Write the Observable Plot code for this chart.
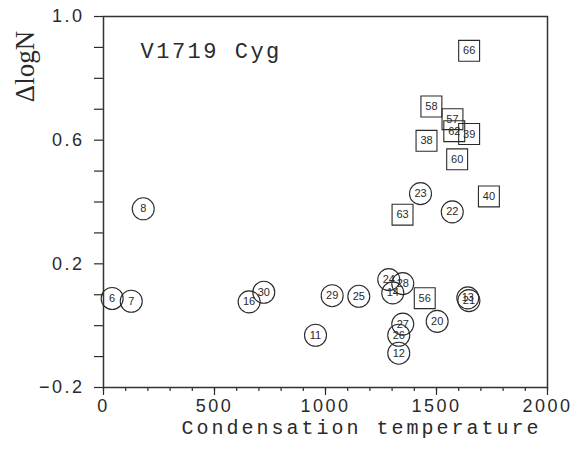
<!DOCTYPE html>
<html><head><meta charset="utf-8">
<script src="https://cdn.jsdelivr.net/npm/d3@7"></script>
<script src="https://cdn.jsdelivr.net/npm/@observablehq/plot@0.6"></script>
<style>
body{margin:0;background:#fff}
g[aria-label="x-axis tick label"] text,g[aria-label="y-axis tick label"] text{letter-spacing:2.5px}
</style></head><body><div id="chart"></div>
<script>
const title = "V1719 Cyg";
const xLabel = "Condensation temperature";
const yLabel = "ΔlogN";

// circles
const circleIds = [6, 7, 8, 16, 30, 29, 25, 11, 24, 28, 14, 27, 26, 12, 20, 23, 22, 13, 21];
const circleX = [39, 125, 179, 656, 722, 1030, 1150, 955, 1285, 1348, 1303, 1348, 1330, 1330, 1503, 1428, 1571, 1641, 1646];
const circleY = [0.088, 0.079, 0.378, 0.077, 0.108, 0.097, 0.095, -0.031, 0.149, 0.136, 0.106, 0.005, -0.031, -0.089, 0.014, 0.427, 0.368, 0.090, 0.081];

// squares
const squareIds = [66, 58, 57, 62, 39, 38, 60, 63, 40, 56];
const squareX = [1647, 1477, 1572, 1580, 1647, 1455, 1593, 1347, 1736, 1447];
const squareY = [0.889, 0.709, 0.668, 0.629, 0.620, 0.598, 0.538, 0.359, 0.418, 0.089];

const xMajorTicks = [0, 500, 1000, 1500, 2000];
const xMinorTicks = [0, 100, 200, 300, 400, 500, 600, 700, 800, 900, 1000, 1100, 1200, 1300, 1400, 1500, 1600, 1700, 1800, 1900, 2000];
const yTicks = [-0.2, -0.1, 0, 0.1, 0.2, 0.3, 0.4, 0.5, 0.6, 0.7, 0.8, 0.9, 1.0];
const yLabelTicks = [-0.2, 0.2, 0.6, 1.0];

const circles = circleIds.map((id, i) => ({id, x: circleX[i], y: circleY[i]}));
const squares = squareIds.map((id, i) => ({id, x: squareX[i], y: squareY[i]}));
const ink = "#2a2a2a";
const fmt = d3.format(".1f");

const chart = Plot.plot({
  width: 575, height: 454,
  marginLeft: 103, marginRight: 28, marginTop: 16, marginBottom: 67,
  style: {fontFamily: "'Liberation Sans', Arial, sans-serif", fontSize: "11px", background: "#fff", color: ink},
  x: {domain: [0, 2000]},
  y: {domain: [-0.2, 1.0]},
  marks: [
    Plot.axisX(xMinorTicks, {tickSize: 4, tickFormat: () => "", label: null, stroke: ink, strokeWidth: 1.2}),
    Plot.axisX(xMajorTicks, {tickSize: 8, tickPadding: 4, fontSize: 18, stroke: ink, strokeWidth: 1.2,
      tickFormat: d => String(d), label: null}),
    Plot.axisY(yTicks, {tickSize: 9, tickPadding: 10, fontSize: 18, stroke: ink, strokeWidth: 1.2,
      tickFormat: d => yLabelTicks.includes(d) ? fmt(d) : "", label: null}),
    Plot.frame({stroke: "#333", strokeWidth: 1.5}),
    Plot.dot(circles, {x: "x", y: "y", r: 11, stroke: ink, fill: "none", strokeWidth: 1.1}),
    Plot.dot(squares, {x: "x", y: "y", r: 11.8, symbol: "square", stroke: ink, fill: "none", strokeWidth: 1.1}),
    Plot.text(circles, {x: "x", y: "y", text: "id", fontSize: 11, fill: ink}),
    Plot.text(squares, {x: "x", y: "y", text: "id", fontSize: 11, fill: ink}),
    Plot.text([title], {frameAnchor: "top-left", dx: 37, dy: 26, textAnchor: "start",
      fontFamily: "'Liberation Mono', monospace", fontSize: 22, fill: ink}),
    Plot.text([xLabel], {frameAnchor: "bottom", dx: 36, dy: 46, textAnchor: "middle",
      fontFamily: "'Liberation Mono', monospace", fontSize: 20, fill: ink}),
    Plot.text([yLabel], {frameAnchor: "top-left", dx: -89, dy: 50, rotate: -90, textAnchor: "middle",
      fontFamily: "'Liberation Serif', serif", fontSize: 27, fill: ink})
  ]
});
chart.querySelectorAll("text").forEach(t => {
  if (t.textContent === title) t.style.letterSpacing = "2.5px";
  if (t.textContent === xLabel) t.style.letterSpacing = "3px";
});
document.getElementById("chart").appendChild(chart);
</script></body></html>
